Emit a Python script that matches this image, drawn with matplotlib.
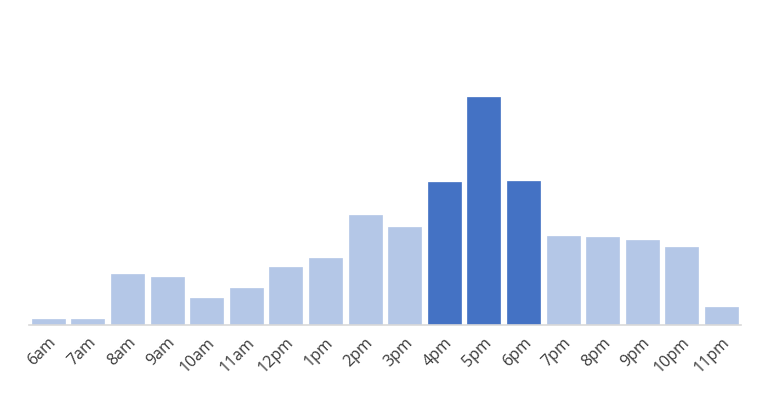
import matplotlib
matplotlib.use("Agg")
import matplotlib.pyplot as plt

hours = ["6am", "7am", "8am", "9am", "10am", "11am", "12pm", "1pm", "2pm", "3pm",
         "4pm", "5pm", "6pm", "7pm", "8pm", "9pm", "10pm", "11pm"]
values = [5.6, 5.6, 51, 47.6, 27, 37, 58, 66.6, 110, 98,
          143, 228, 144, 89, 88, 85, 78, 18]
highlight = ["4pm", "5pm", "6pm"]

light = "#B4C7E7"
dark = "#4472C4"
colors = [dark if h in highlight else light for h in hours]

plt.rcParams['font.family'] = ['Open Sans', 'DejaVu Sans']
fig = plt.figure(figsize=(7.65, 4.0), dpi=100)
ax = fig.add_axes([0.0373, 0.1875, 0.9317, 0.7625])
x = range(len(hours))
ax.bar(x, values, width=0.83, color=colors, edgecolor=colors, linewidth=0.5)
ax.set_xlim(-0.5, len(hours) - 0.5)
ax.set_ylim(0, 305)
for s in ["top", "right", "left"]:
    ax.spines[s].set_visible(False)
ax.spines["bottom"].set_color("#D9D9D9")
ax.spines["bottom"].set_linewidth(1.2)
ax.set_yticks([])
ax.set_xticks(list(x))
ax.set_xticklabels(hours, rotation=45, ha="right", rotation_mode="anchor",
                   fontsize=11.5, color="#3a3a3a")
ax.tick_params(axis="x", length=0, pad=7)
fig.savefig("out.png", dpi=100, facecolor="white")
